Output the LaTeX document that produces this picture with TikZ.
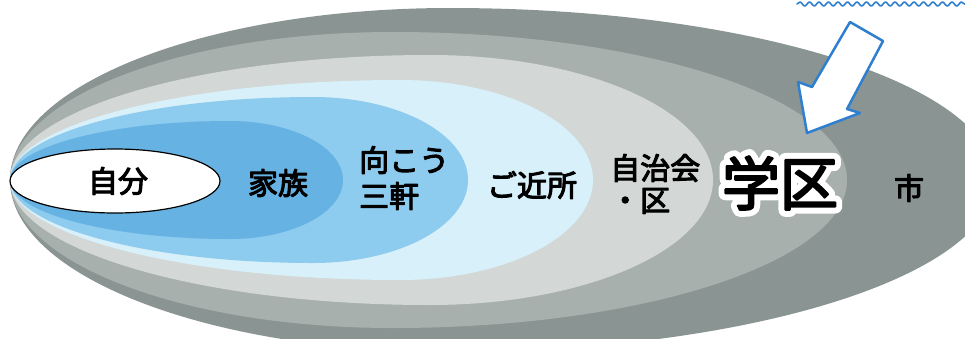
\documentclass[tikz,border=0pt]{standalone}
\usepackage{fontspec}
\newfontfamily\jp{Noto Sans CJK JP}[FakeBold=3.5]
\newfontfamily\jphalo{Noto Sans CJK JP}[FakeBold=24]
\usetikzlibrary{decorations.pathmorphing}
\definecolor{shi}{HTML}{8A9593}
\definecolor{gakku}{HTML}{A7B0AD}
\definecolor{jichi}{HTML}{D3D8D6}
\definecolor{kinjo}{HTML}{D8F0FA}
\definecolor{sangen}{HTML}{8DCBEF}
\definecolor{kazoku}{HTML}{65B2E3}
\definecolor{pen}{HTML}{2F7FD0}
% egg shaped ring: colour, x of top point, x of right end, half height
\newcommand\egg[4]{%
  \fill[#1] (10,180) arc[start angle=180,end angle=90,x radius={#2-10},y radius=#4]
    arc[start angle=90,end angle=-90,x radius={#3-#2},y radius=#4]
    arc[start angle=270,end angle=180,x radius={#2-10},y radius=#4] -- cycle;}
\begin{document}
\begin{tikzpicture}[x=1pt,y=-1pt,line join=round,line cap=round,
    lbl/.style={font=\jp\fontsize{30}{36}\selectfont,text=black,inner sep=0pt},
    two/.style={lbl,align=left},
    big/.style={lbl,font=\jp\fontsize{58}{60}\selectfont}]
\useasboundingbox (0,0) rectangle (965,338);
\begin{scope}
\clip (0,0) rectangle (965,338);
\egg{shi}{450}{995}{172}
\egg{gakku}{393}{847}{148}
\egg{jichi}{430}{713}{125}
\egg{kinjo}{400}{593}{100}
\egg{sangen}{313}{468}{83}
\egg{kazoku}{230}{343}{59}
\draw[fill=white,line width=1.2] (115,181) ellipse[x radius=105,y radius=32];
\end{scope}
\node[lbl] (jibun) at (118,181) {自分};
\node[lbl] (kazokutxt) at (278,183) {家族};
\node[two,anchor=west] (sangentxt) at (359,178) {向こう\\三軒};
\node[lbl] (kinjotxt) at (532,185) {ご近所};
\node[two,anchor=west,font=\jp\fontsize{30}{32}\selectfont] (jichitxt) at (610,184) {自治会\\・区};
\node[big,font=\jphalo\fontsize{58}{60}\selectfont,text=white] (gakkuhalo) at (780,183) {学区};
\node[big] (gakkutxt) at (gakkuhalo) {学区};
\node[lbl] (shitxt) at (909,188) {市};
\draw[pen,fill=white,line width=2.5]
  (850,22) -- (883,41) -- (847,109) -- (860,113) -- (807,133) -- (798,82) -- (812,87) -- cycle;
\draw[pen,line width=1.6,decorate,decoration={snake,amplitude=2,segment length=9.5}]
  (797,4) -- (965,4);
\end{tikzpicture}
\end{document}
